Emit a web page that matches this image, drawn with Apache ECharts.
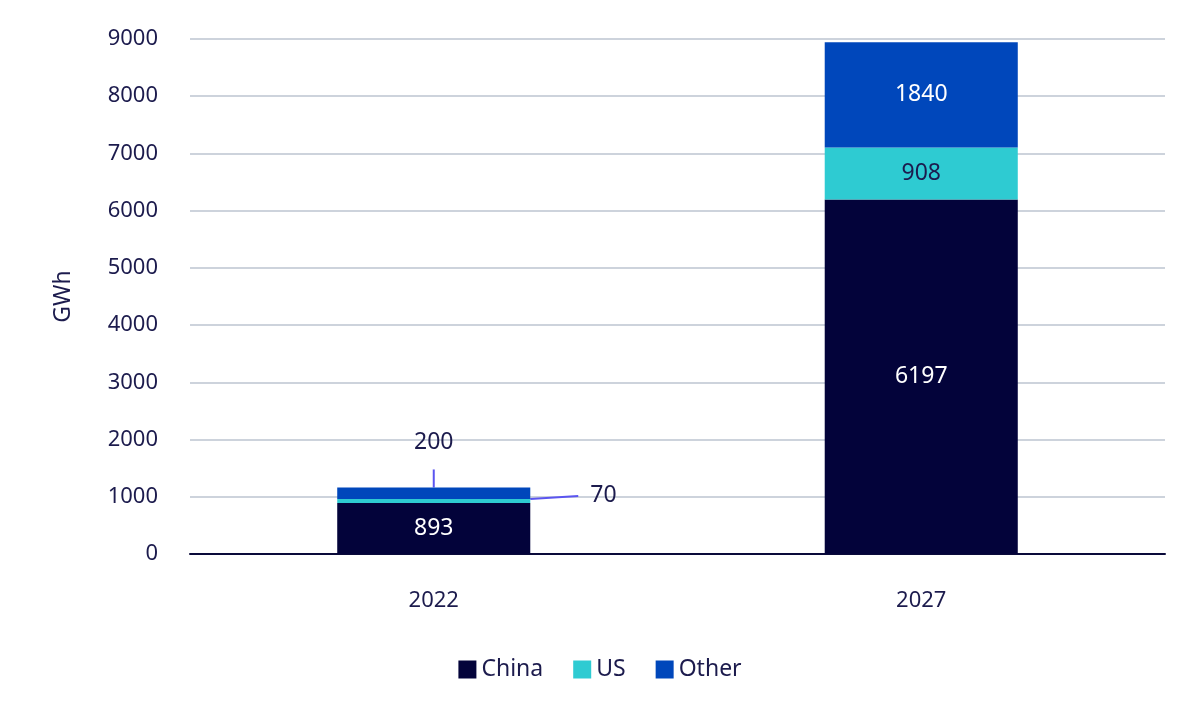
<!DOCTYPE html>
<html><head><meta charset="utf-8">
<script src="https://cdn.jsdelivr.net/npm/echarts@6/dist/echarts.min.js"></script>
<style>html,body{margin:0;padding:0;background:#fff}#c{width:1200px;height:721px}</style>
</head><body><div id="c"></div>
<script>
const categories = ['2022', '2027'];
const china = [893, 6197];
const us = [70, 908];
const other = [200, 1840];
const yTicks = [0, 1000, 2000, 3000, 4000, 5000, 6000, 7000, 8000, 9000];

const textColor = '#1c1b4d';
const font = '"Noto Sans", "Open Sans", sans-serif';
const chart = echarts.init(document.getElementById('c'));
const leader = { show: true, smooth: false, length2: 0, lineStyle: { color: '#5b55f0', width: 2 } };
const clearBg = 'rgba(255,255,255,0)';

chart.setOption({
  animation: false,
  grid: { left: 190, right: 35, top: 39, bottom: 167 },
  legend: {
    bottom: 35, left: 'center', itemWidth: 18, itemHeight: 18, itemGap: 30,
    icon: 'rect',
    textStyle: { color: textColor, fontSize: 23, fontFamily: font },
    data: ['China', 'US', 'Other']
  },
  xAxis: {
    type: 'category', data: categories,
    axisLine: { lineStyle: { color: '#0a0a3a', width: 2 } },
    axisTick: { show: false },
    axisLabel: { color: textColor, fontSize: 22, fontFamily: font, margin: 36 }
  },
  yAxis: {
    type: 'value', min: yTicks[0], max: yTicks[yTicks.length - 1], interval: 1000,
    name: 'GWh', nameLocation: 'middle', nameGap: 115,
    nameTextStyle: { color: textColor, fontSize: 23, fontFamily: font },
    axisLabel: { color: textColor, fontSize: 22, fontFamily: font, margin: 32, formatter: v => String(v) },
    splitLine: { lineStyle: { color: '#cdd3dc', width: 2 } },
    axisLine: { show: false }, axisTick: { show: false }
  },
  series: [
    {
      name: 'China', type: 'bar', stack: 's', barWidth: '39.6%', data: china,
      itemStyle: { color: '#03033a' },
      label: { show: true, position: 'inside', color: '#fff', fontSize: 23, fontFamily: font }
    },
    {
      name: 'US', type: 'bar', stack: 's', itemStyle: { color: '#2ecbd2' },
      data: [
        { value: us[0], label: { position: 'right', distance: 0, padding: [0, 0, 0, 12],
            backgroundColor: clearBg, color: textColor },
          labelLine: leader },
        us[1]
      ],
      label: { show: true, position: 'inside', color: textColor, fontSize: 23, fontFamily: font },
      labelLayout: p => p.dataIndex === 0 ? { dx: 48, dy: -5 } : {}
    },
    {
      name: 'Other', type: 'bar', stack: 's', itemStyle: { color: '#0047bb' },
      data: [
        { value: other[0], label: { position: 'top', distance: 0, padding: [0, 0, 15, 0],
            backgroundColor: clearBg, color: textColor },
          labelLine: leader },
        other[1]
      ],
      label: { show: true, position: 'inside', color: '#fff', fontSize: 23, fontFamily: font },
      labelLayout: p => p.dataIndex === 0 ? { dy: -18 } : {}
    }
  ]
});
</script>
</body></html>
